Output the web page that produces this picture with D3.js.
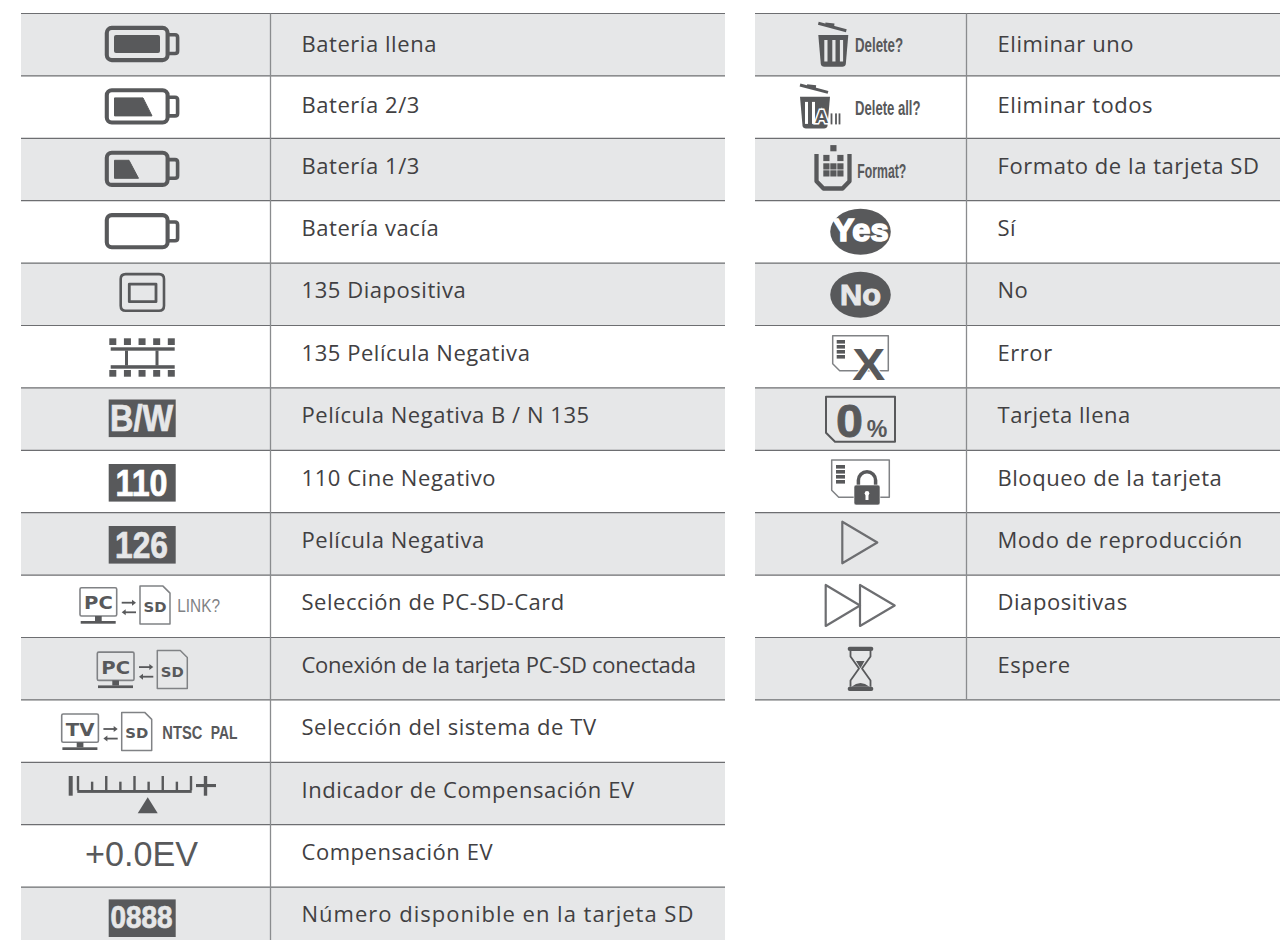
<!DOCTYPE html>
<html lang="es">
<head>
    <meta charset="UTF-8">
    <title>Iconos de la pantalla</title>
    <script src="https://d3js.org/d3.v7.min.js"></script>
    <style>
        body { margin: 0; background: #fff; }
        svg { display: block; }
        .label { font-family: "Open Sans", sans-serif; font-size: 22px; fill: #414042; letter-spacing: 0.55px; }
        .icon-text { font-family: "Liberation Sans", Arial, sans-serif; fill: #58595b; }
    </style>
</head>
<body>
    <svg id="chart" width="1280" height="940"></svg>
    <script>
        // left table
        const leftLabels = ["Bateria llena", "Batería 2/3", "Batería 1/3", "Batería vacía", "135 Diapositiva",
            "135 Película Negativa", "Película Negativa B / N 135", "110 Cine Negativo", "Película Negativa",
            "Selección de PC-SD-Card", "Conexión de la tarjeta PC-SD conectada", "Selección del sistema de TV",
            "Indicador de Compensación EV", "Compensación EV", "Número disponible en la tarjeta SD"];
        const leftIcons = ["batteryFull", "battery23", "battery13", "batteryEmpty", "slide",
            "film", "bw", "n110", "n126", "pcLink", "pcSd", "tvSd", "evScale", "evText", "n0888"];

        // right table
        const rightLabels = ["Eliminar uno", "Eliminar todos", "Formato de la tarjeta SD", "Sí", "No", "Error",
            "Tarjeta llena", "Bloqueo de la tarjeta", "Modo de reproducción", "Diapositivas", "Espere"];
        const rightIcons = ["delete", "deleteAll", "format", "yes", "no", "cardError",
            "cardFull", "cardLock", "play", "slideshow", "wait"];

        const evTicks = [-4, -3, -2, -1, 0, 1, 2, 3, 4];
        const formatBlocks = [[1, -2.6], [0, -1.2], [2, -1.2], [0, 0], [1, 0], [2, 0], [0, 1], [1, 1], [2, 1]];

        const DARK = "#58595b", GREY = "#e6e7e8", LINE = "#6d6e71", OUTLINE = "#808285";
        const ROW_H = 62.4, TOP = 13.5;
        const svg = d3.select("#chart");

        function rect(g, x0, y0, x1, y1, rx) {
            return g.append("rect").attr("x", x0).attr("y", y0).attr("width", x1 - x0).attr("height", y1 - y0)
                .attr("rx", rx || 0).attr("fill", DARK);
        }
        function outline(g, d, w, col) {
            return g.append("path").attr("d", d).attr("fill", "none").attr("stroke", col || DARK)
                .attr("stroke-width", w).attr("stroke-linejoin", "round");
        }
        function text(g, str, x, y, size, len, bold, anchor) {
            const t = g.append("text").attr("class", "icon-text").attr("x", x).attr("y", y)
                .attr("font-size", size).attr("font-weight", bold ? "bold" : "normal")
                .attr("text-anchor", anchor || "start").text(str);
            if (len) t.attr("textLength", len).attr("lengthAdjust", "spacingAndGlyphs");
            return t;
        }

        function battery(g) {
            g.append("rect").attr("x", -38.2).attr("y", 14.4).attr("width", 60.8).attr("height", 32.2).attr("rx", 5)
                .attr("fill", "none").attr("stroke", DARK).attr("stroke-width", 4.1);
            outline(g, "M24,21.3 H30 Q32.6,21.3 32.6,24 V37.5 Q32.6,40 30,40 H24", 3.6);
        }
        function batteryFill(g, xTop, xBottom) {
            g.append("path").attr("fill", DARK).attr("stroke", DARK).attr("stroke-width", 1).attr("stroke-linejoin", "round")
                .attr("d", `M-30.5,22 H${xTop} L${xBottom},40 H-30.5 Z`);
        }
        function badge(g, label, bg, top, base, size, len) {
            rect(g, -36.3, top, 30.7, top + 37.6);
            text(g, label, -3.5, base, size, len, true, "middle").style("fill", bg)
                .attr("stroke", bg).attr("stroke-width", 0.7);
        }
        function linkPair(g, dx, dy, label) {
            const p = g.append("g").attr("transform", `translate(${dx},${dy})`);
            p.append("rect").attr("x", -65).attr("y", 12.6).attr("width", 36.7).attr("height", 28.3).attr("rx", 1.5)
                .attr("fill", "none").attr("stroke", OUTLINE).attr("stroke-width", 1.6);
            text(p, label, -46.6, 34.2, 18, 28.7, true, "middle").style("font-family", "DejaVu Sans");
            rect(p, -50, 40.9, -43.3, 46);
            rect(p, -64.3, 45.9, -29.3, 48.6);
            outline(p, "M-23.3,27.6 H-12", 1.8);
            p.append("path").attr("fill", DARK).attr("d", "M-13,24.6 L-9,27.6 L-13,30.6 Z");
            outline(p, "M-9,37.2 H-20", 1.8);
            p.append("path").attr("fill", DARK).attr("d", "M-19.3,34.2 L-23.3,37.2 L-19.3,40.2 Z");
            outline(p, "M-5,11 H18 L25,18 V49 H-5 Z", 1.5, OUTLINE);
            text(p, "SD", 10, 37, 14, 23, true, "middle").style("font-family", "DejaVu Sans");
        }
        function trash(g, x0, y0) {
            const t = g.append("g").attr("transform", `translate(${x0},${y0})`);
            outline(t, "M0,-11.7 L28,-4.3", 3);
            outline(t, "M7,-11 L16,-10", 3);
            t.append("path").attr("fill", DARK).attr("d", "M0,0 H30 L27.5,29 Q27,31.7 24,31.7 H6 Q3,31.7 2.5,29 Z");
            return t;
        }
        function sdCard(g, x0, y0, x1, y1, cut, w) {
            outline(g, `M${x0},${y0} H${x1} V${y1} H${x0 + cut} L${x0},${y1 - cut} Z`, w, w > 1.7 ? DARK : OUTLINE);
        }
        function contacts(g, x0, x1, y0) {
            [0, 1, 2, 3].forEach(i => rect(g, x0, y0 + i * 5, x1, y0 + i * 5 + 3.6));
        }
        function triangle(g, x0, x1, y0, y1) {
            outline(g, `M${x0},${y0} V${y1} L${x1},${(y0 + y1) / 2} Z`, 2.2, LINE);
        }

        const icons = {
            batteryFull(g) { battery(g); rect(g, -31, 21.5, 15, 39.5, 2); },
            battery23(g) { battery(g); batteryFill(g, -2, 7); },
            battery13(g) { battery(g); batteryFill(g, -16, -6.5); },
            batteryEmpty(g) { battery(g); },
            slide(g) {
                outline(g, "M-19.3,11 H14 Q19,11 19,16 V42.6 Q19,47.6 14,47.6 H-19.3 Q-24.3,47.6 -24.3,42.6 V16 Q-24.3,11 -19.3,11 Z", 2.6, DARK);
                outline(g, "M-15.7,21 H11 V38.6 H-15.7 Z", 2.8, DARK);
            },
            film(g) {
                const sx = d3.scaleLinear().domain([0, 4]).range([-35.7, 22.8]);
                d3.range(5).forEach(i => {
                    rect(g, sx(i), 12.8, sx(i) + 7, 19.5);
                    rect(g, sx(i), 44.5, sx(i) + 7, 51.2);
                });
                rect(g, -34.3, 21.8, 29.7, 25.2);
                rect(g, -34.3, 39.7, 29.7, 43.2);
                rect(g, -20, 25, -17, 40);
                rect(g, 10.5, 25, 13.5, 40);
            },
            bw(g, bg) { badge(g, "B/W", bg, 11.6, 42.8, 37, 63); },
            n110(g, bg) { badge(g, "110", bg, 13.7, 45.7, 37, 52); },
            n126(g, bg) { badge(g, "126", bg, 13.3, 45, 37, 53); },
            n0888(g, bg) { badge(g, "0888", bg, 12.3, 41.4, 31, 62); },
            pcLink(g) {
                linkPair(g, 0, 0, "PC");
                text(g, "LINK?", 32.3, 37, 19, 42.7).style("fill", OUTLINE);
            },
            pcSd(g) { linkPair(g, 17.3, 2, "PC"); },
            tvSd(g) {
                linkPair(g, -18.3, 1.5, "TV");
                text(g, "NTSC", 17.3, 39, 18, 40, true);
                text(g, "PAL", 65.7, 39, 18, 26.7, true);
            },
            evScale(g) {
                const sx = d3.scaleLinear().domain([-4, 4]).range([-67, 46]);
                rect(g, -76.3, 13.7, -72.3, 33.4);
                rect(g, -67.7, 27.7, 46.7, 30.6);
                evTicks.forEach(t => rect(g, sx(t) - 1.2, t % 2 === 0 ? 13.7 : 19.4, sx(t) + 1.2, 28));
                rect(g, 51, 21.7, 71, 24.8);
                rect(g, 58.8, 13.7, 62.2, 33.4);
                g.append("path").attr("fill", DARK).attr("d", "M2.7,35 L12.7,51 H-7.3 Z");
            },
            evText(g) { text(g, "+0.0EV", -3.5, 41.3, 35, 113, false, "middle"); },
            delete(g, bg) {
                trash(g, -42.2, 21.5);
                [6, 14, 21.6].forEach(x => rect(g, -42.2 + x, 26.5, -42.2 + x + 3.2, 48).style("fill", bg));
                text(g, "Delete?", -5.5, 38.2, 21, 48, true);
            },
            deleteAll(g, bg) {
                trash(g, -60.5, 20.8);
                [5, 12].forEach(x => rect(g, -60.5 + x, 26, -60.5 + x + 3, 48).style("fill", bg));
                [-29, -24.5, -21].forEach(x => rect(g, x - 0.9, 37.5, x + 0.9, 48.5));
                text(g, "A", -38.8, 47.4, 19, null, true, "middle")
                    .attr("stroke", bg).attr("stroke-width", 3).attr("paint-order", "stroke");
                text(g, "Delete all?", -5.5, 39, 21, 65.5, true);
            },
            format(g) {
                outline(g, "M-44,15.7 V43 L-37,50.2 H-18 L-11,43 V15.7", 4.3);
                const bx = d3.scaleLinear().domain([0, 2]).range([-37.2, -23.2]);
                const by = d3.scaleLinear().domain([0, 1]).range([25, 32]);
                formatBlocks.forEach(b => rect(g, bx(b[0]), by(b[1]), bx(b[0]) + 6.2, by(b[1]) + 6.2));
                text(g, "Format?", -3.2, 40, 21, 49, true);
            },
            yes(g, bg) {
                g.append("ellipse").attr("cy", 31.1).attr("rx", 30.3).attr("ry", 23).attr("fill", DARK);
                text(g, "Yes", 0, 40.6, 31, 56, true, "middle").style("fill", bg)
                    .attr("stroke", bg).attr("stroke-width", 1.6);
            },
            no(g, bg) {
                g.append("ellipse").attr("cy", 31.7).attr("rx", 30.3).attr("ry", 23).attr("fill", DARK);
                text(g, "No", 0, 41.6, 30, 41, true, "middle").style("fill", bg)
                    .attr("stroke", bg).attr("stroke-width", 1);
            },
            cardError(g, bg) {
                sdCard(g, -27.8, 10.2, 27.8, 45.2, 7, 1.5);
                contacts(g, -23.8, -15.5, 14.5);
                text(g, "X", 8.2, 54.5, 44, 33, true, "middle")
                    .attr("stroke", bg).attr("stroke-width", 2).attr("paint-order", "stroke");
            },
            cardFull(g) {
                sdCard(g, -34.5, 8.8, 34.5, 53.8, 9, 2);
                text(g, "0", -24.5, 49.4, 47, 27, true).attr("stroke", DARK).attr("stroke-width", 0.8);
                text(g, "%", 6.2, 49.4, 24, 20.6, true);
            },
            cardLock(g, bg) {
                sdCard(g, -28.8, 9.7, 28.8, 47, 7, 1.5);
                contacts(g, -24.5, -15.5, 14.7);
                outline(g, "M-2.1,35 V30 A8.6,8.6 0 0 1 15.1,30 V35", 3.5);
                rect(g, -6.5, 34.7, 19.5, 54.7, 2).attr("stroke", bg).attr("stroke-width", 0.6);
                g.append("circle").attr("cx", 6.5).attr("cy", 43).attr("r", 2.3).attr("fill", bg);
                rect(g, 5, 44, 8, 49.7).style("fill", bg);
            },
            play(g) { triangle(g, -18.2, 16.8, 9, 50.6); },
            slideshow(g) {
                triangle(g, -34.8, -0.5, 9.9, 50.9);
                triangle(g, -0.5, 34.2, 9.9, 50.9);
            },
            wait(g) {
                rect(g, -12.8, 9.2, 12.8, 13.5, 2);
                rect(g, -12.8, 49.2, 12.8, 53.5, 2);
                outline(g, "M-10,13.5 V19 L-1.5,31 L-10,43 V49.2 M10,13.5 V19 L1.5,31 L10,43 V49.2", 1.8);
                g.append("path").attr("fill", DARK).attr("d", "M-4.5,23.5 H4 L0,30.8 Z");
                g.append("path").attr("fill", DARK).attr("d", "M-9,49.2 Q0,42 9,49.2 Z");
            }
        };

        // the two labels that are set tighter / looser than the rest
        function labelSpacing(d) {
            if (d.startsWith("Conexión")) return "-0.26px";
            if (d.startsWith("Número")) return "1px";
            return null;
        }

        function drawTable(labels, iconKeys, x0, x1, divider, iconX, labelX) {
            const y = d3.scaleBand().domain(d3.range(labels.length))
                .range([TOP, TOP + ROW_H * labels.length]);

            const rows = svg.append("g").selectAll("g").data(labels).enter().append("g")
                .attr("transform", (d, i) => `translate(0,${y(i)})`);

            rows.append("rect").attr("x", x0).attr("width", x1 - x0).attr("height", y.bandwidth())
                .attr("fill", (d, i) => i % 2 === 0 ? GREY : "#fff");

            rows.append("line").attr("x1", x0).attr("x2", x1)
                .attr("stroke", LINE).attr("stroke-width", 1.2);

            rows.append("text").attr("class", "label").attr("x", labelX)
                .attr("y", (d, i) => i === 0 ? 38 : i === 1 ? 36.8 : 35.4)
                .style("letter-spacing", labelSpacing)
                .text(d => d);

            rows.append("g").attr("transform", `translate(${iconX},0)`)
                .each(function (d, i) {
                    icons[iconKeys[i]](d3.select(this), i % 2 === 0 ? GREY : "#fff");
                });

            // closing line and the column divider
            svg.append("line").attr("x1", x0).attr("x2", x1)
                .attr("y1", y.range()[1]).attr("y2", y.range()[1])
                .attr("stroke", LINE).attr("stroke-width", 1.2);
            svg.append("line").attr("x1", divider).attr("x2", divider)
                .attr("y1", TOP).attr("y2", y.range()[1])
                .attr("stroke", "#8a8c8e").attr("stroke-width", 1.3);
        }

        drawTable(leftLabels, leftIcons, 21, 725, 270.5, 145, 301.5);
        drawTable(rightLabels, rightIcons, 755, 1280, 966.5, 860.5, 997.5);
    </script>
</body>
</html>
